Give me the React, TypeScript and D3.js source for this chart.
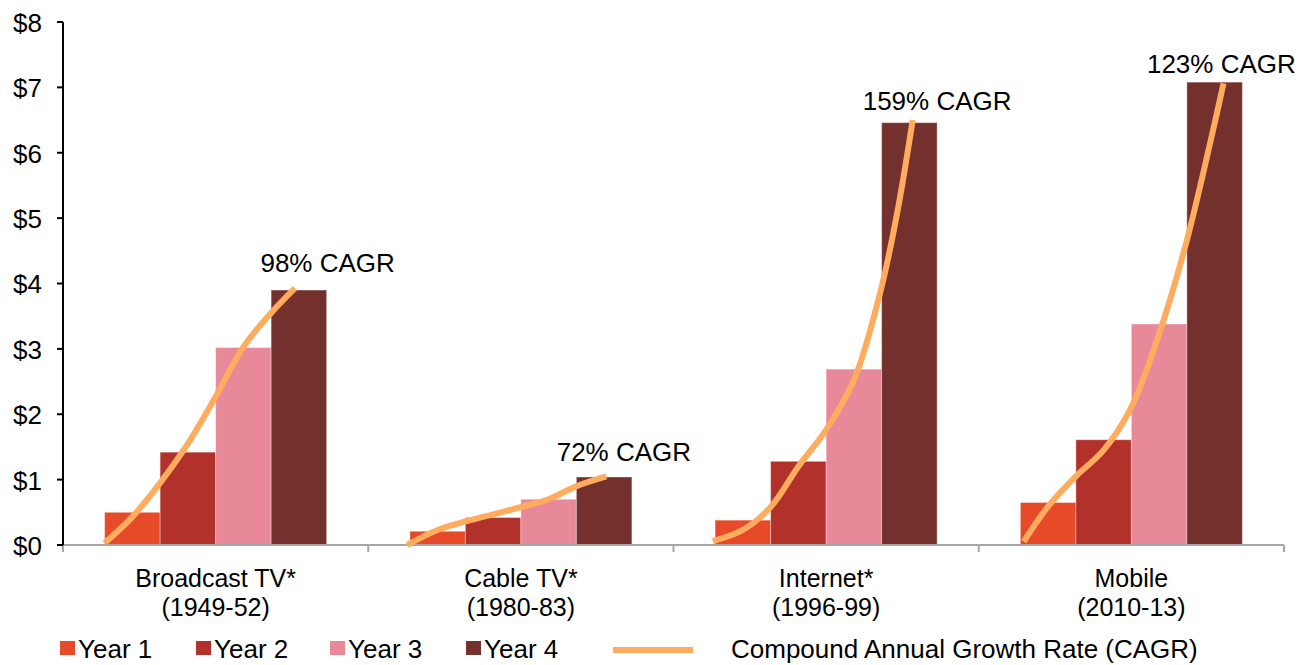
import React from "react";
import * as d3 from "d3";

const categories = ["Broadcast TV*|(1949-52)", "Cable TV*|(1980-83)", "Internet*|(1996-99)", "Mobile|(2010-13)"];
const years = ["Year 1", "Year 2", "Year 3", "Year 4"];
const year1 = [0.5, 0.21, 0.38, 0.65];
const year2 = [1.42, 0.42, 1.28, 1.61];
const year3 = [3.02, 0.7, 2.69, 3.38];
const year4 = [3.9, 1.04, 6.46, 7.08];
const cagrLabels = ["98% CAGR", "72% CAGR", "159% CAGR", "123% CAGR"];
// CAGR trend curve: position in bar widths from the Year 1 bar's left edge, and value
const cagrPos = [
  [0, 0.5, 1, 1.5, 2, 2.5, 3, 3.43],
  [-0.05, 0.5, 1, 2, 2.5, 3, 3.54],
  [-0.04, 0.5, 1, 1.5, 2, 2.5, 3, 3.3, 3.56],
  [0.06, 0.5, 1, 1.5, 2, 2.5, 3, 3.5, 3.66],
];
const cagrVal = [
  [0.03, 0.43, 0.95, 1.55, 2.27, 3.03, 3.55, 3.93],
  [0, 0.23, 0.36, 0.58, 0.7, 0.9, 1.05],
  [0.06, 0.23, 0.58, 1.2, 1.76, 2.52, 3.95, 5.17, 6.5],
  [0.05, 0.59, 1.05, 1.45, 2.11, 3.23, 4.66, 6.45, 7.06],
];
const yTicks = [0, 1, 2, 3, 4, 5, 6, 7, 8];
const colors = ["#E64A28", "#B3312B", "#E8899A", "#74302D"];
const lineColor = "#FFAC5F";
const font = "'Liberation Sans', Arial, sans-serif";
// label placement offsets (px) relative to Year 4 bar's right edge / top
const labelDx = [1, -8, 0, -21];
const labelDy = [18, 16, 13, 9];

export default function App() {
  const W = 1304, H = 665;
  const y = d3.scaleLinear().domain([0, 8]).range([545, 22]);
  const x0 = d3.scaleBand().domain(categories).range([63, 1284]).paddingInner(0).paddingOuter(0);
  const x1 = d3.scaleBand().domain(years).range([0, x0.bandwidth()]).paddingInner(0).paddingOuter(0.75);
  const series = [year1, year2, year3, year4];
  const line = d3.line<[number, number]>().x((d) => d[0]).y((d) => d[1]).curve(d3.curveCatmullRom.alpha(0.5));

  const boundaries = categories.map((c) => x0(c)!).concat([x0.range()[1]]);

  return (
    <svg width={W} height={H} style={{ position: "absolute", left: 0, top: 0, display: "block" }} fontFamily={font}>
      <rect width={W} height={H} fill="#fff" />
      {/* bars */}
      {categories.map((c, ci) =>
        years.map((yr, yi) => {
          const v = series[yi][ci];
          return (
            <rect
              key={c + yr}
              x={x0(c)! + x1(yr)!}
              y={y(v)}
              width={x1.bandwidth()}
              height={y(0) - y(v)}
              fill={colors[yi]}
              stroke="#ffffff"
              strokeOpacity={0.35}
              strokeWidth={1}
            />
          );
        })
      )}
      {/* x axis */}
      <line x1={63} x2={x0.range()[1]} y1={y(0)} y2={y(0)} stroke="#A6A6A6" strokeWidth={2} />
      {boundaries.map((b, i) => (
        <line key={i} x1={b} x2={b} y1={y(0)} y2={y(0) + 7} stroke="#A6A6A6" strokeWidth={2} />
      ))}
      {/* y axis */}
      <line x1={63} x2={63} y1={y(8)} y2={y(0)} stroke="#000" strokeWidth={2} />
      {yTicks.map((t) => (
        <g key={t}>
          <line x1={57} x2={63} y1={y(t)} y2={y(t)} stroke="#000" strokeWidth={2} />
          <text x={42} y={y(t)} dy="0.38em" textAnchor="end" fontSize={26} fill="#000">
            {"$" + t}
          </text>
        </g>
      ))}
      {/* CAGR curves */}
      {categories.map((c, ci) => {
        const left = x0(c)! + x1(years[0])!;
        const step = x1.step();
        const pts: [number, number][] = cagrPos[ci].map((t, i) => [left + t * step, y(cagrVal[ci][i])]);
        return (
          <path key={"l" + c} d={line(pts)!} fill="none" stroke={lineColor} strokeWidth={6} strokeLinecap="butt" />
        );
      })}
      {/* CAGR labels */}
      {categories.map((c, ci) => {
        const left = x0(c)! + x1(years[3])!;
        const cx = left + x1.bandwidth() + labelDx[ci];
        return (
          <text key={"t" + c} x={cx} y={y(year4[ci]) - labelDy[ci]} textAnchor="middle" fontSize={26} fill="#000">
            {cagrLabels[ci]}
          </text>
        );
      })}
      {/* category labels */}
      {categories.map((c) => {
        const [a, b] = c.split("|");
        const cx = x0(c)! + x0.bandwidth() / 2;
        return (
          <g key={"c" + c}>
            <text x={cx} y={587} textAnchor="middle" fontSize={25} fill="#000">{a}</text>
            <text x={cx} y={616} textAnchor="middle" fontSize={25} fill="#000">{b}</text>
          </g>
        );
      })}
      {/* legend */}
      {years.map((yr, i) => {
        const lx = [60, 196, 330, 466][i];
        return (
          <g key={"lg" + yr}>
            <rect x={lx} y={641} width={15} height={14} fill={colors[i]} />
            <text x={lx + 18} y={658} fontSize={26} fill="#000">{yr}</text>
          </g>
        );
      })}
      <line x1={613} x2={693} y1={650} y2={650} stroke={lineColor} strokeWidth={6} />
      <text x={731} y={658} fontSize={26} fill="#000">Compound Annual Growth Rate (CAGR)</text>
    </svg>
  );
}
